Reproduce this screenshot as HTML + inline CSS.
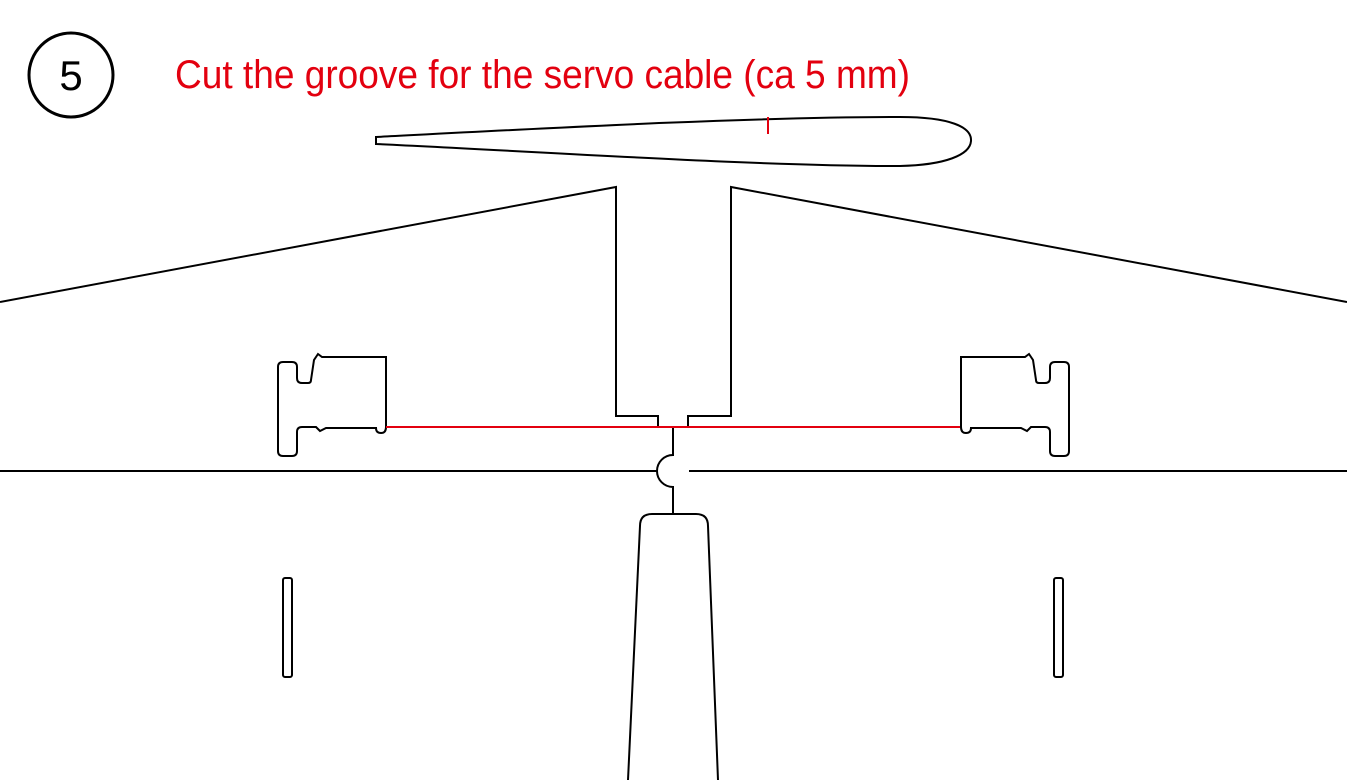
<!DOCTYPE html>
<html><head><style>html,body{margin:0;padding:0;background:#fff}svg{display:block}</style></head>
<body>
<svg width="1347" height="780" viewBox="0 0 1347 780" xmlns="http://www.w3.org/2000/svg">
<circle cx="71" cy="75" r="42" fill="none" stroke="#000" stroke-width="3"/>
<text x="71" y="90" text-anchor="middle" font-family="Liberation Sans, sans-serif" font-size="42" fill="#000">5</text>
<text x="175" y="88" font-family="Liberation Sans, sans-serif" font-size="40" fill="#e3000f" textLength="735" lengthAdjust="spacingAndGlyphs">Cut the groove for the servo cable (ca 5 mm)</text>
<g fill="none" stroke="#000" stroke-width="2">
<path d="M376,137 C550,128 750,117 900,117 C950,117 972,127 971,141 C970,155 945,165 900,166 C750,166 550,152 376,144 Z"/>
<path d="M0,302 L616,187 V416 H658 V427"/>
<path d="M1347,302 L731,187 V416 H688 V427"/>
<path d="M0,471 H657"/>
<path d="M689,471 H1347"/>
<path d="M673,427 V455 A16,16 0 0 0 673,487 V514"/>
<path d="M628,780 L640,526 Q640,514 652,514 H696 Q708,514 708,526 L718,780"/>
<rect x="283" y="578" width="9" height="99" rx="2"/>
<rect x="1054" y="578" width="9" height="99" rx="2"/>
<g id="srv">
<path d="M283,362 H292 Q297,362 297,367 V378 Q297,383 302,383 H308 Q311,383 311,380 L314,360 L318,354 L322,357 H386 V427 Q386,433 381,433 Q376,433 376,428 H326 L320,431 L316,427 H302 Q297,427 297,432 V451 Q297,456 292,456 H283 Q278,456 278,451 V367 Q278,362 283,362 Z"/>
</g>
<use href="#srv" transform="translate(1347,0) scale(-1,1)"/>
</g>
<g stroke="#e3000f" stroke-width="2">
<line x1="386" y1="427" x2="960" y2="427"/>
<line x1="768" y1="117" x2="768" y2="134"/>
</g>
</svg>
</body></html>
